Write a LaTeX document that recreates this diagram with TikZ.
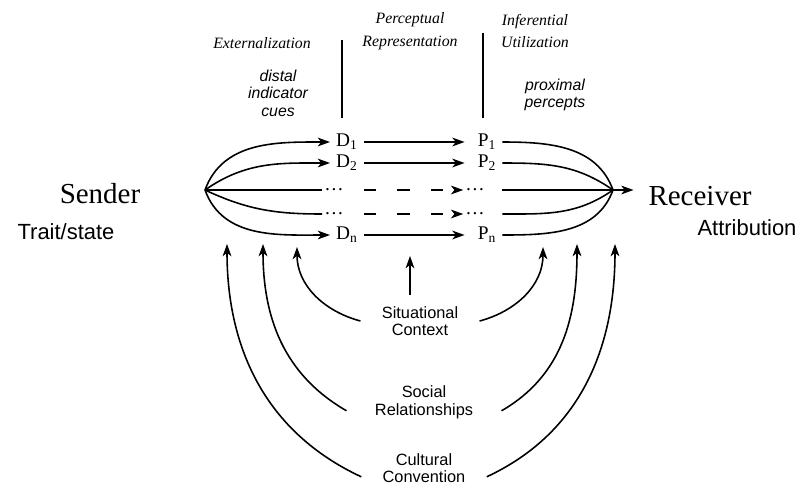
\documentclass[tikz,border=0pt]{standalone}
\usepackage{fontspec}
\setmainfont{Liberation Serif}
\setsansfont{Liberation Sans}
\usetikzlibrary{arrows.meta,calc}
\tikzset{party/.style={font=\fontsize{16.5}{18}\selectfont},role/.style={font=\fontsize{12.5}{14}\selectfont\sffamily},phase/.style={font=\fontsize{9}{13}\selectfont\itshape,align=center},cuelabel/.style={font=\fontsize{9}{10}\selectfont\sffamily\itshape,align=center},cue/.style={font=\fontsize{11}{12}\selectfont},gap/.style={font=\fontsize{11}{12}\selectfont,inner xsep=1pt},infl/.style={font=\fontsize{9.3}{10}\selectfont\sffamily,align=center,inner xsep=12pt},wire/.style={line width=.9pt},arr/.style={wire,-{Stealth[length=7pt,width=5pt,inset=2pt]}}}

\begin{document}
\begin{tikzpicture}[x=0.02cm,y=0.02cm]
      \useasboundingbox (0,0) rectangle (800,485);
      % sender and receiver
      \node[party](sender) at (100,291){Sender};
      \node[role](trait) at (66,253){Trait/state};
      \node[party](receiver) at (700,289){Receiver};
      \node[role](attrib) at (747,257){Attribution};
      % stages
      \node[phase](ext) at (262,442){Externalization};
      \node[phase](rep) at (410,454){Perceptual\\Representation};
      \node[phase](util) at (535,454){Inferential\\Utilization};
      \node[cuelabel](distal) at (278,392){distal\\indicator\\cues};
      \node[cuelabel](proximal) at (555,390){proximal\\percepts};
      \draw[wire](342,445)--(342,367);\draw[wire](483,452)--(483,367);
      % cues and percepts
      \node[cue](d1) at (347,343){D\textsubscript{1}};
      \node[cue](d2) at (347,322){D\textsubscript{2}};
      \node[gap](ddots1) at (334,295){\dots};
      \node[gap](ddots2) at (334,271){\dots};
      \node[cue](dn) at (347,250){D\textsubscript{n}};
      \node[cue](p1) at (487,343){P\textsubscript{1}};
      \node[cue](p2) at (487,322){P\textsubscript{2}};
      \node[gap](pdots1) at (475,295){\dots};
      \node[gap](pdots2) at (475,271){\dots};
      \node[cue](pn) at (487,250){P\textsubscript{n}};
      \coordinate(L) at (205,295);\coordinate(R) at (613,295);
      \draw[arr](L) to[out=70,in=180](d1.west);\draw[arr](L) to[out=35,in=180](d2.west);
      \draw[wire](L)--(ddots1.west);\draw[wire](L) to[out=-25,in=180](ddots2.west);
      \draw[arr](L) to[out=-70,in=180](dn.west);
      \draw[arr,shorten >=4pt](d1)--(p1);\draw[arr,shorten >=4pt](d2)--(p2);\draw[arr,shorten >=4pt](dn)--(pn);
      \draw[arr,dash pattern=on 7pt off 12pt](ddots1 -| d1.east)--(pdots1.west);
      \draw[arr,dash pattern=on 7pt off 12pt](ddots2 -| d1.east)--(pdots2.west);
      \draw[wire](p1.east) to[out=0,in=110](R);\draw[wire](p2.east) to[out=0,in=145](R);
      \draw[wire](pdots1 -| p1.east)--(R);\draw[wire](pdots2 -| p1.east) to[out=0,in=-145](R);
      \draw[wire](pn.east) to[out=0,in=-110](R);
      \draw[arr,shorten >=5pt](R)--(R -| receiver.west);
      % influences
      \node[infl](situ) at (420,164){Situational\\Context};
      \node[infl,inner xsep=16pt](social) at (424,83){Social\\Relationships};
      \node[infl](cult) at (424,17){Cultural\\Convention};
      \coordinate(sitL) at (297,238);\coordinate(sitR) at (543,238);
      \coordinate(socL) at (263,241);\coordinate(socR) at (577,241);
      \coordinate(culL) at (227,241);\coordinate(culR) at (615,241);
      \coordinate(ctx) at (410,229);
      \draw[arr,shorten <=3pt](situ.north -| ctx)--(ctx);
      \draw[arr](situ.west) to[out=165,in=-90](sitL);\draw[arr](situ.east) to[out=15,in=-90](sitR);
      \draw[arr]([yshift=-5pt]social.west) to[out=150,in=-90](socL);\draw[arr]([yshift=-5pt]social.east) to[out=30,in=-90](socR);
      \draw[arr]([yshift=-5pt]cult.west) to[out=155,in=-90](culL);\draw[arr]([yshift=-5pt]cult.east) to[out=25,in=-90](culR);
    \end{tikzpicture}
\end{document}
